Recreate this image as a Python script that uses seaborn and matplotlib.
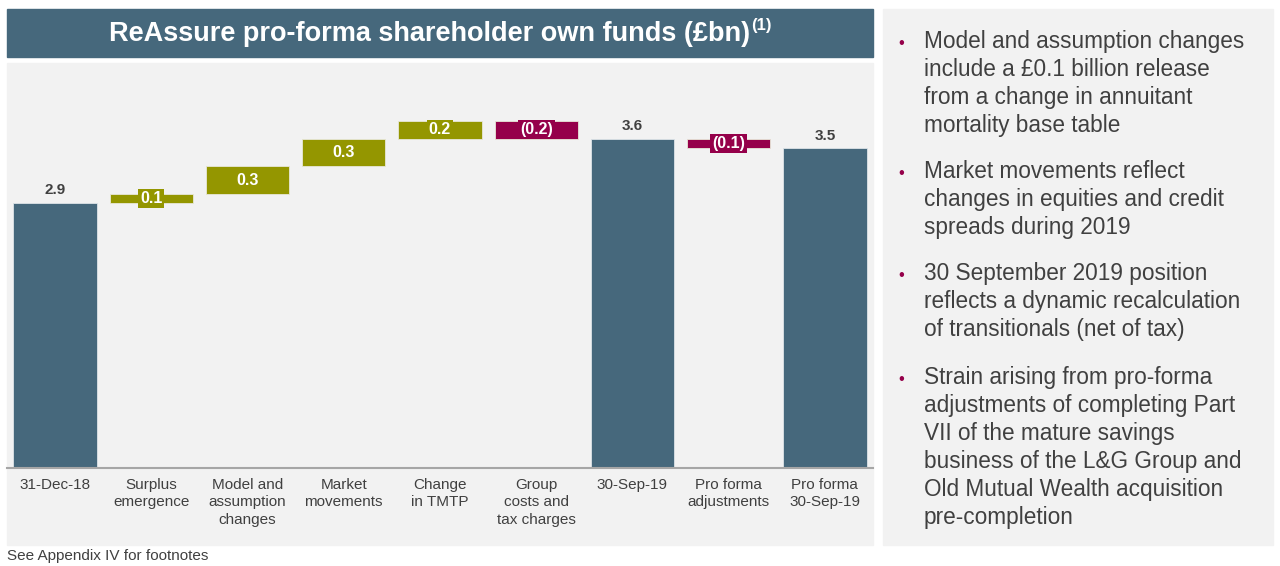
import numpy as np
import pandas as pd
import matplotlib
matplotlib.use("Agg")
import matplotlib.pyplot as plt
import seaborn as sns
from matplotlib.patches import Rectangle

# ---------------- data ----------------
categories = ["31-Dec-18", "Surplus\nemergence", "Model and\nassumption\nchanges",
              "Market\nmovements", "Change\nin TMTP", "Group\ncosts and\ntax charges",
              "30-Sep-19", "Pro forma\nadjustments", "Pro forma\n30-Sep-19"]
values = [2.9, 0.1, 0.3, 0.3, 0.2, -0.2, 3.6, -0.1, 3.5]
kinds = ["total", "up", "up", "up", "up", "down", "total", "down", "total"]
value_labels = ["2.9", "0.1", "0.3", "0.3", "0.2", "(0.2)", "3.6", "(0.1)", "3.5"]

title_text = "ReAssure pro-forma shareholder own funds (£bn)"
title_sup = "(1)"
footnote = "See Appendix IV for footnotes"
bullets = [
    ["Model and assumption changes", "include a £0.1 billion release",
     "from a change in annuitant", "mortality base table"],
    ["Market movements reflect", "changes in equities and credit",
     "spreads during 2019"],
    ["30 September 2019 position", "reflects a dynamic recalculation",
     "of transitionals (net of tax)"],
    ["Strain arising from pro-forma", "adjustments of completing Part",
     "VII of the mature savings", "business of the L&G Group and",
     "Old Mutual Wealth acquisition", "pre-completion"],
]

# ---------------- style ----------------
BLUE = "#46687C"
OLIVE = "#949600"
CRIMSON = "#95004A"
PANEL = "#F2F2F2"
TXT = "#404040"

sns.set_theme(style="white")
plt.rcParams['font.family'] = ['Liberation Sans', 'DejaVu Sans']

W, H = 1280, 566
fig = plt.figure(figsize=(W / 100, H / 100), dpi=100)


def fx(x):
    return x / W


def fy(y):
    return 1 - y / H


# background panels
fig.add_artist(Rectangle((fx(7), fy(545)), fx(873) - fx(7), fy(63) - fy(545),
                         transform=fig.transFigure, color=PANEL, zorder=0))
fig.add_artist(Rectangle((fx(883), fy(545)), fx(1273) - fx(883), fy(9) - fy(545),
                         transform=fig.transFigure, color=PANEL, zorder=0))
fig.add_artist(Rectangle((fx(7), fy(57)), fx(873) - fx(7), fy(9) - fy(57),
                         transform=fig.transFigure, color=BLUE, zorder=0))

# ---------------- waterfall ----------------
bottoms, heights = [], []
running = 0.0
for v, k in zip(values, kinds):
    if k == "total":
        bottoms.append(0.0)
        heights.append(v)
        running = v
    elif k == "up":
        bottoms.append(running)
        heights.append(v)
        running += v
    else:
        bottoms.append(running + v)
        heights.append(-v)
        running += v

df = pd.DataFrame({"category": categories,
                   "total": [v if k == "total" else np.nan for v, k in zip(values, kinds)]})

ax = fig.add_axes([fx(7), fy(468), fx(873) - fx(7), fy(63) - fy(468)])
ax.set_facecolor(PANEL)
BW = 0.865
sns.barplot(data=df, x="category", y="total", order=categories, color=BLUE,
            saturation=1, width=BW, errorbar=None, ax=ax, zorder=2,
            edgecolor="#DDE3E8", linewidth=0.6)

pos = np.arange(len(categories))
for i, (b, h, k) in enumerate(zip(bottoms, heights, kinds)):
    if k == "total":
        continue
    c = OLIVE if k == "up" else CRIMSON
    ax.bar(pos[i], h, bottom=b, width=BW, color=c, zorder=2,
           edgecolor="#E8E8D8", linewidth=0.6)

ax.set_xlim(-0.5, len(categories) - 0.5)
ax.set_ylim(0, (468 - 63) / 91.4)

for i, (b, h, k, lab) in enumerate(zip(bottoms, heights, kinds, value_labels)):
    if k == "total":
        ax.annotate(lab, (pos[i], b + h), xytext=(0, 4), textcoords="offset points",
                    ha="center", va="bottom", fontsize=11, fontweight="bold", color=TXT)
    else:
        c = OLIVE if k == "up" else CRIMSON
        ax.text(pos[i], b + h / 2, lab, ha="center", va="center", fontsize=11.5,
                fontweight="bold", color="white", zorder=3,
                bbox=dict(boxstyle="square,pad=0.12", fc=c, ec="none"))

for s in ["top", "left", "right"]:
    ax.spines[s].set_visible(False)
ax.spines["bottom"].set_color("#A6A6A6")
ax.spines["bottom"].set_linewidth(1.5)
ax.set_yticks([])
ax.set_xlabel("")
ax.set_ylabel("")
ax.set_xticks(pos)
ax.set_xticklabels(categories, fontsize=11, color=TXT, linespacing=1.32, va="top")
ax.tick_params(axis="x", length=0, pad=7)

# ---------------- title ----------------
renderer = fig.canvas.get_renderer()
t_main = fig.text(0, fy(41), title_text, ha="left", va="baseline", fontsize=19.5,
                  fontweight="bold", color="white")
t_sup = fig.text(0, fy(30), title_sup, ha="left", va="baseline", fontsize=12,
                 fontweight="bold", color="white")
wm = t_main.get_window_extent(renderer).width
ws = t_sup.get_window_extent(renderer).width
start = 440 - (wm + ws + 1) / 2
t_main.set_x(fx(start))
t_sup.set_x(fx(start + wm + 1))

# ---------------- bullets ----------------
para_tops = [41, 171, 273, 377]
for lines, top in zip(bullets, para_tops):
    fig.text(fx(898), fy(top + 7), "•", fontsize=12, color=CRIMSON, ha="left", va="baseline")
    for j, line in enumerate(lines):
        fig.text(fx(924), fy(top + 7 + 28 * j), line, fontsize=16.3, color=TXT,
                 ha="left", va="baseline")

fig.text(fx(7), fy(560), footnote, fontsize=11, color=TXT, ha="left", va="baseline")

fig.savefig("out.png", dpi=100, facecolor="white")
